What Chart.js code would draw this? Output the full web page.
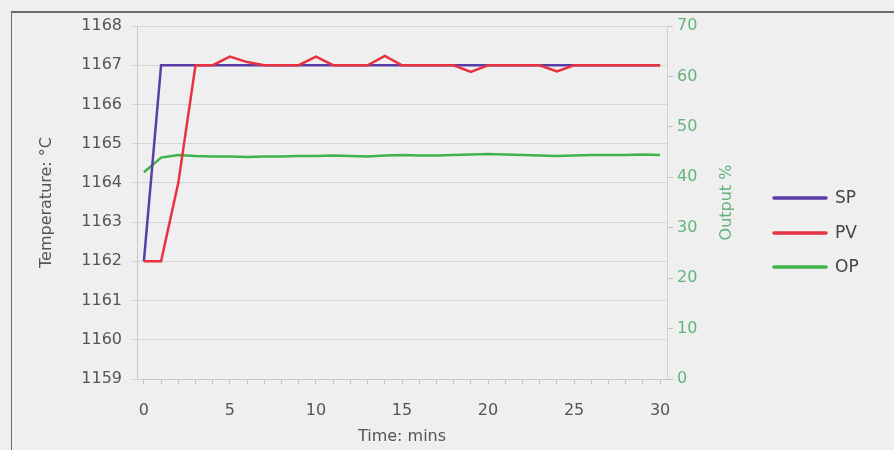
<!DOCTYPE html>
<html>
<head>
<meta charset="utf-8">
<script src="https://cdn.jsdelivr.net/npm/chart.js@4/dist/chart.umd.min.js"></script>
<style>
  html, body { margin: 0; padding: 0; background: #efefef; }
  #wrap { position: relative; width: 894px; height: 450px; overflow: hidden; }
  #frame { position: absolute; left: 11px; top: 11px; width: 900px; height: 460px;
           border-top: 2px solid #6a6a6a; border-left: 1.5px solid #6a6a6a; }
  canvas { position: absolute; left: 0; top: 0; }
</style>
</head>
<body>
<div id="wrap">
  <div id="frame"></div>
  <canvas id="c" width="894" height="450"></canvas>
</div>
<script>
// ---- data ----
const minutes = [0,1,2,3,4,5,6,7,8,9,10,11,12,13,14,15,16,17,18,19,20,21,22,23,24,25,26,27,28,29,30];
const spValues = [1162,1167,1167,1167,1167,1167,1167,1167,1167,1167,1167,1167,1167,1167,1167,1167,1167,1167,1167,1167,1167,1167,1167,1167,1167,1167,1167,1167,1167,1167,1167];
const pvValues = [1162,1162,1164,1167,1167,1167.22,1167.08,1167,1167,1167,1167.22,1167,1167,1167,1167.24,1167,1167,1167,1167,1166.83,1167,1167,1167,1167,1166.84,1167,1167,1167,1167,1167,1167];
const opValues = [41.0,43.9,44.4,44.2,44.1,44.1,44.0,44.1,44.1,44.2,44.2,44.3,44.2,44.1,44.3,44.4,44.3,44.3,44.4,44.5,44.6,44.5,44.4,44.3,44.2,44.3,44.4,44.4,44.4,44.5,44.4];
const seriesNames = ["SP", "PV", "OP"];
const xTickLabels = [0,5,10,15,20,25,30];
const tempTicks = [1159,1160,1161,1162,1163,1164,1165,1166,1167,1168];
const outputTicks = [0,10,20,30,40,50,60,70];
const xTitle = "Time: mins";
const leftTitle = "Temperature: °C";
const rightTitle = "Output %";

// ---- styles ----
const FONT = "'DejaVu Sans', sans-serif";
const colSP = "#5a3ea6", colPV = "#e8323f", colOP = "#3fb24c";
const greenText = "#62b47c";
const greyText = "#555555";
const gridCol = "#d6d6d6";

const toPts = (vals) => vals.map((v, i) => ({ x: minutes[i], y: v }));

const extras = {
  id: 'extras',
  afterDraw(chart) {
    const ctx = chart.ctx;
    ctx.save();
    ctx.font = "16px " + FONT;
    ctx.fillStyle = greenText;
    ctx.textAlign = "center";
    ctx.textBaseline = "middle";
    ctx.translate(727, (chart.chartArea.top + chart.chartArea.bottom) / 2);
    ctx.rotate(-Math.PI / 2);
    ctx.fillText(rightTitle, 0, 0);
    ctx.restore();

    ctx.save();
    const ys = [198, 233, 267];
    chart.data.datasets.forEach((ds, i) => {
      ctx.strokeStyle = ds.borderColor;
      ctx.lineWidth = 3.5;
      ctx.lineCap = "round";
      ctx.beginPath();
      ctx.moveTo(774, ys[i]);
      ctx.lineTo(826, ys[i]);
      ctx.stroke();
      ctx.font = "17px " + FONT;
      ctx.fillStyle = "#444";
      ctx.textAlign = "left";
      ctx.textBaseline = "middle";
      ctx.fillText(ds.label, 835, ys[i] + 1);
    });
    ctx.restore();
  }
};

new Chart(document.getElementById('c'), {
  type: 'line',
  data: {
    datasets: [
      { label: seriesNames[0], data: toPts(spValues), borderColor: colSP, borderWidth: 2.5, pointRadius: 0, tension: 0, yAxisID: 'y', order: 1 },
      { label: seriesNames[1], data: toPts(pvValues), borderColor: colPV, borderWidth: 2.5, pointRadius: 0, tension: 0, yAxisID: 'y', order: 0 },
      { label: seriesNames[2], data: toPts(opValues), borderColor: colOP, borderWidth: 2.5, pointRadius: 0, tension: 0, yAxisID: 'y1', order: 2 }
    ]
  },
  options: {
    responsive: false,
    animation: false,
    layout: { padding: { left: 33, top: 26, right: 177, bottom: 0 } },
    plugins: { legend: { display: false }, tooltip: { enabled: false } },
    scales: {
      x: {
        type: 'linear',
        min: -0.4, max: 30.4,
        afterBuildTicks: (s) => { s.ticks = minutes.map(v => ({ value: v })); },
        afterFit: (s) => { s.height = 71; },
        ticks: {
          autoSkip: false, maxRotation: 0,
          color: greyText, font: { family: FONT, size: 16 }, padding: 17,
          callback: (v) => xTickLabels.includes(v) ? String(v) : ''
        },
        grid: { drawOnChartArea: false, drawTicks: true, tickLength: 5, color: '#c4c4c4' },
        border: { display: true, color: '#c8c8c8', width: 1 },
        title: { display: true, text: xTitle, color: greyText, font: { family: FONT, size: 16 }, padding: { top: 4, bottom: 4 } }
      },
      y: {
        position: 'left',
        min: 1159, max: 1168,
        afterBuildTicks: (s) => { s.ticks = tempTicks.map(v => ({ value: v })); },
        afterFit: (s) => { s.width = 104; },
        ticks: { color: greyText, font: { family: FONT, size: 16 }, padding: 9, callback: (v) => String(v) },
        grid: { drawOnChartArea: true, drawTicks: true, tickLength: 6, color: gridCol },
        border: { display: true, color: '#c8c8c8', width: 1 },
        title: { display: true, text: leftTitle, color: greyText, font: { family: FONT, size: 16 }, padding: { top: 4, bottom: 4 } }
      },
      y1: {
        position: 'right',
        min: 0, max: 70,
        afterBuildTicks: (s) => { s.ticks = outputTicks.map(v => ({ value: v })); },
        afterFit: (s) => { s.width = 50; },
        ticks: { color: greenText, font: { family: FONT, size: 16 }, padding: 4, callback: (v) => String(v) },
        grid: { drawOnChartArea: false, drawTicks: true, tickLength: 6, color: '#c4c4c4' },
        border: { display: true, color: '#cfcfcf', width: 1 },
        title: { display: false }
      }
    }
  },
  plugins: [extras]
});
</script>
</body>
</html>
